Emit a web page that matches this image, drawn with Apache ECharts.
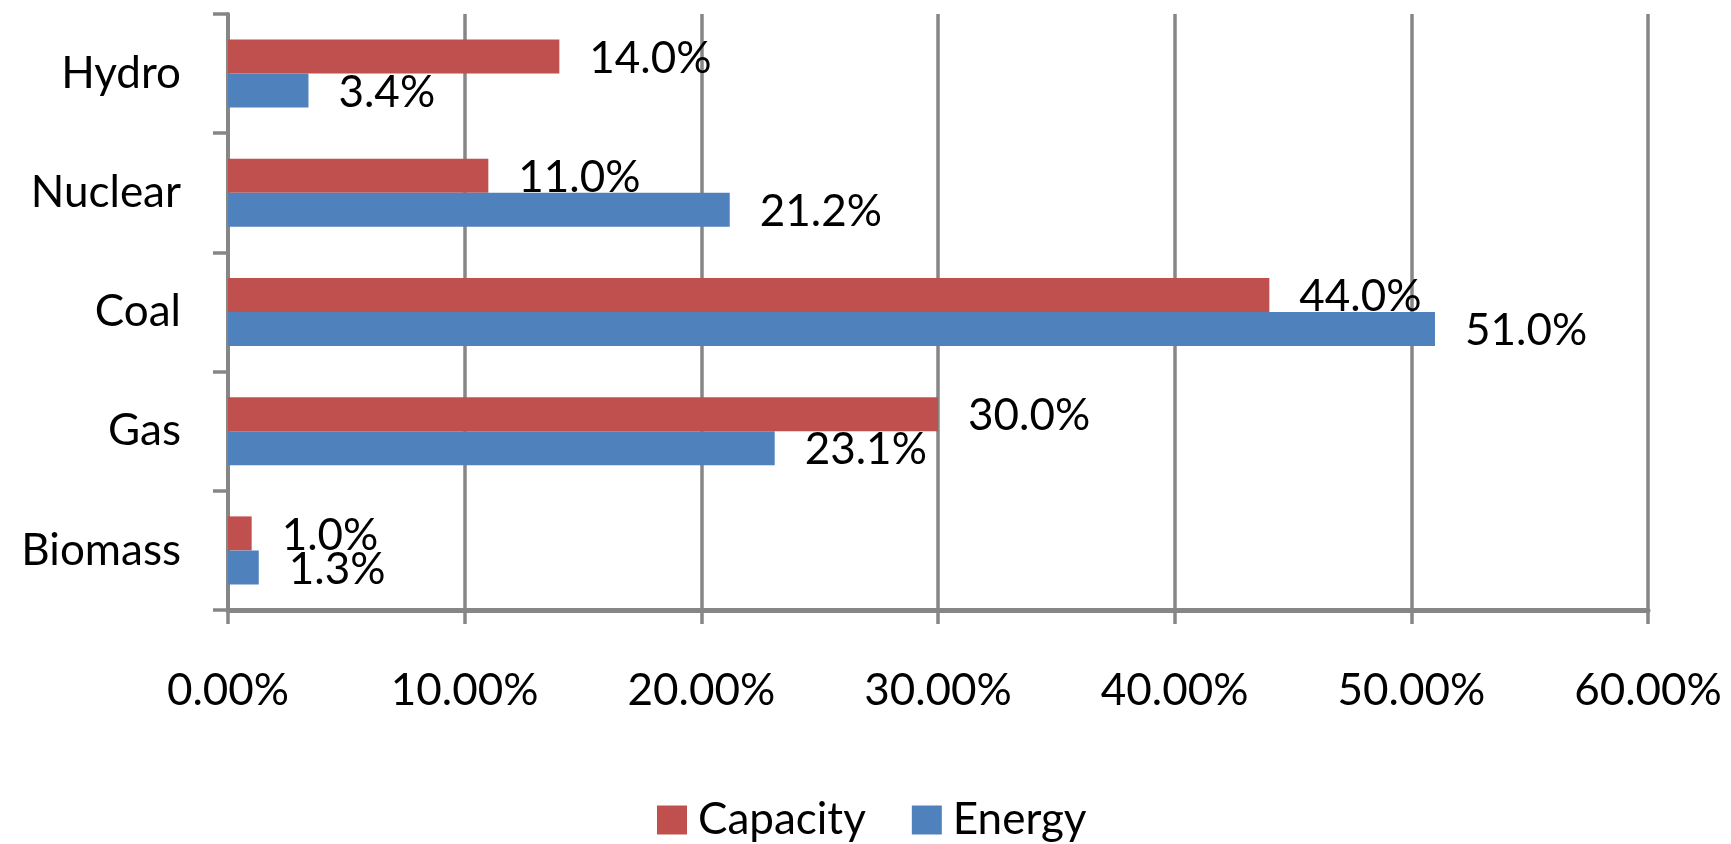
<!DOCTYPE html>
<html>
<head>
<meta charset="utf-8">
<script src="https://cdn.jsdelivr.net/npm/echarts@6/dist/echarts.min.js"></script>
<style>
  html, body { margin: 0; padding: 0; background: #fff; }
  #main { width: 1731px; height: 844px; }
</style>
</head>
<body>
<div id="main"></div>
<script>
// categories top to bottom, as in the picture
const sources = ['Hydro', 'Nuclear', 'Coal', 'Gas', 'Biomass'];
const capacity = [14.0, 11.0, 44.0, 30.0, 1.0];
const energy = [3.4, 21.2, 51.0, 23.1, 1.3];
const xTicks = [0, 10, 20, 30, 40, 50, 60];

const axisGray = '#868686';
const font = 'Lato';

const chart = echarts.init(document.getElementById('main'));

const labelStyle = {
  show: true,
  position: 'right',
  distance: 30,
  offset: [0, 2],
  color: '#000',
  fontFamily: font,
  fontSize: 44,
  formatter: (p) => p.value.toFixed(1) + '%'
};

const option = {
  animation: false,
  backgroundColor: '#fff',
  textStyle: { fontFamily: font },
  grid: {
    left: 228,
    right: 83,
    top: 14,
    bottom: 234
  },
  legend: {
    data: ['Capacity', 'Energy'],
    left: 652,
    top: 793,
    itemWidth: 30,
    itemHeight: 29,
    itemGap: 46,
    icon: 'rect',
    textStyle: {
      fontFamily: font,
      fontSize: 44,
      color: '#000',
      padding: [0, 0, 0, 6]
    }
  },
  xAxis: {
    type: 'value',
    min: xTicks[0],
    max: xTicks[xTicks.length - 1],
    interval: 10,
    axisLine: { show: true, lineStyle: { color: axisGray, width: 5 } },
    axisTick: { show: true, length: 14, lineStyle: { color: axisGray, width: 3.5 } },
    axisLabel: {
      margin: 59,
      color: '#000',
      fontFamily: font,
      fontSize: 44,
      formatter: (v) => v.toFixed(2) + '%'
    },
    splitLine: { show: true, lineStyle: { color: axisGray, width: 3.5 } }
  },
  yAxis: {
    type: 'category',
    inverse: true,
    data: sources,
    axisLine: { show: true, lineStyle: { color: axisGray, width: 4 } },
    axisTick: { show: true, length: 15, lineStyle: { color: axisGray, width: 3.5 } },
    axisLabel: {
      margin: 47,
      color: '#000',
      fontFamily: font,
      fontSize: 44
    },
    splitLine: { show: false }
  },
  series: [
    {
      name: 'Capacity',
      type: 'bar',
      data: capacity,
      barWidth: 34,
      barGap: '0%',
      itemStyle: { color: '#C0504D' },
      label: labelStyle
    },
    {
      name: 'Energy',
      type: 'bar',
      data: energy,
      barWidth: 34,
      barGap: '0%',
      itemStyle: { color: '#4F81BD' },
      label: labelStyle
    }
  ]
};

chart.setOption(option);
</script>
</body>
</html>
